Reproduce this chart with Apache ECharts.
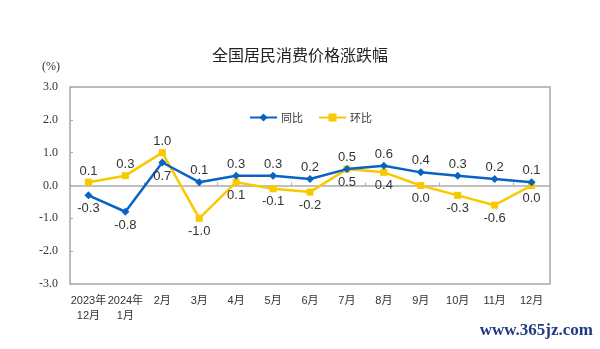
<!DOCTYPE html>
<html><head><meta charset="utf-8">
<script src="https://cdn.jsdelivr.net/npm/echarts@6/dist/echarts.min.js"></script>
<style>html,body{margin:0;padding:0;background:#fff}#c{width:600px;height:349px}</style>
</head><body><div id="c"></div>
<script>
const categories = ['2023年\n12月','2024年\n1月','2月','3月','4月','5月','6月','7月','8月','9月','10月','11月','12月'];
const yoy = [-0.3,-0.8,0.7,0.1,0.3,0.3,0.2,0.5,0.6,0.4,0.3,0.2,0.1];
const mom = [0.1,0.3,1.0,-1.0,0.1,-0.1,-0.2,0.5,0.4,0.0,-0.3,-0.6,0.0];
const yoyLabelPos = ['bottom','bottom','bottom','top','top','top','top','top','top','top','top','top','top'];
const momLabelPos = ['top','top','top','bottom','bottom','bottom','bottom','bottom','bottom','bottom','bottom','bottom','bottom'];
const yTicks = {min:-3, max:3, interval:1};

const chart = echarts.init(document.getElementById('c'));
const lblFont = {fontFamily:'Liberation Sans, Arial, sans-serif', fontSize:13, color:'#333'};
function mk(vals, pos){
  return vals.map((v,i)=>({value:v, label:{position:pos[i], distance: pos[i]==='top' ? 1 : 3}}));
}
chart.setOption({
  animation:false,
  title:{text:'全国居民消费价格涨跌幅', left:'center', top:42,
    textStyle:{fontSize:16, fontWeight:'normal', color:'#222', fontFamily:'Noto Sans CJK SC, sans-serif'}},
  legend:{top:107, left:244, itemGap:15, itemWidth:27, itemHeight:10,
    textStyle:{fontSize:11, color:'#333', fontFamily:'Noto Sans CJK SC, sans-serif', padding:[0,0,0,-1]},
    data:['同比','环比']},
  grid:{left:70, right:50, top:87, bottom:65, show:true, borderColor:'#a6a6a6', borderWidth:1.5},
  xAxis:[{
    type:'category', data:categories, position:'bottom',
    axisLine:{show:false, onZero:false}, axisTick:{show:false},
    axisLabel:{interval:0, fontSize:11, color:'#333', lineHeight:15, margin:9,
      fontFamily:'Liberation Sans, Noto Sans CJK SC, sans-serif'}
  },{
    type:'category', data:categories, position:'bottom',
    axisLine:{show:true, onZero:true, lineStyle:{color:'#aaaaaa', width:1.5}},
    axisTick:{show:true, inside:true, length:3, lineStyle:{color:'#aaaaaa'}},
    axisLabel:{show:false}
  }],
  yAxis:{type:'value', min:yTicks.min, max:yTicks.max, interval:yTicks.interval,
    name:'(%)', nameLocation:'end', nameGap:14,
    nameTextStyle:{fontSize:12, color:'#333', fontFamily:'Liberation Serif, serif', align:'right', padding:[0,10,0,0]},
    axisLine:{show:false}, splitLine:{show:false},
    axisTick:{show:true, inside:true, length:3, lineStyle:{color:'#aaaaaa'}},
    axisLabel:{formatter:v=>v.toFixed(1), fontSize:12, color:'#333', margin:12,
      fontFamily:'Liberation Serif, serif'}
  },
  series:[{
    name:'同比', type:'line', data:mk(yoy,yoyLabelPos),
    symbol:'diamond', symbolSize:8,
    itemStyle:{color:'#0a62c4'}, lineStyle:{color:'#0a62c4', width:2.5},
    label:Object.assign({show:true, formatter:p=>p.value.toFixed(1)}, lblFont), z:3
  },{
    name:'环比', type:'line', data:mk(mom,momLabelPos),
    symbol:'rect', symbolSize:7,
    itemStyle:{color:'#f9c900'}, lineStyle:{color:'#f9c900', width:2.5},
    label:Object.assign({show:true, formatter:p=>p.value.toFixed(1)}, lblFont), z:2
  }],
  graphic:[{type:'text', right:7, top:322,
    style:{text:'www.365jz.com', fontSize:17, fontWeight:'bold', fill:'#1d3d80',
      fontFamily:'Liberation Serif, serif'}}]
});
</script></body></html>
